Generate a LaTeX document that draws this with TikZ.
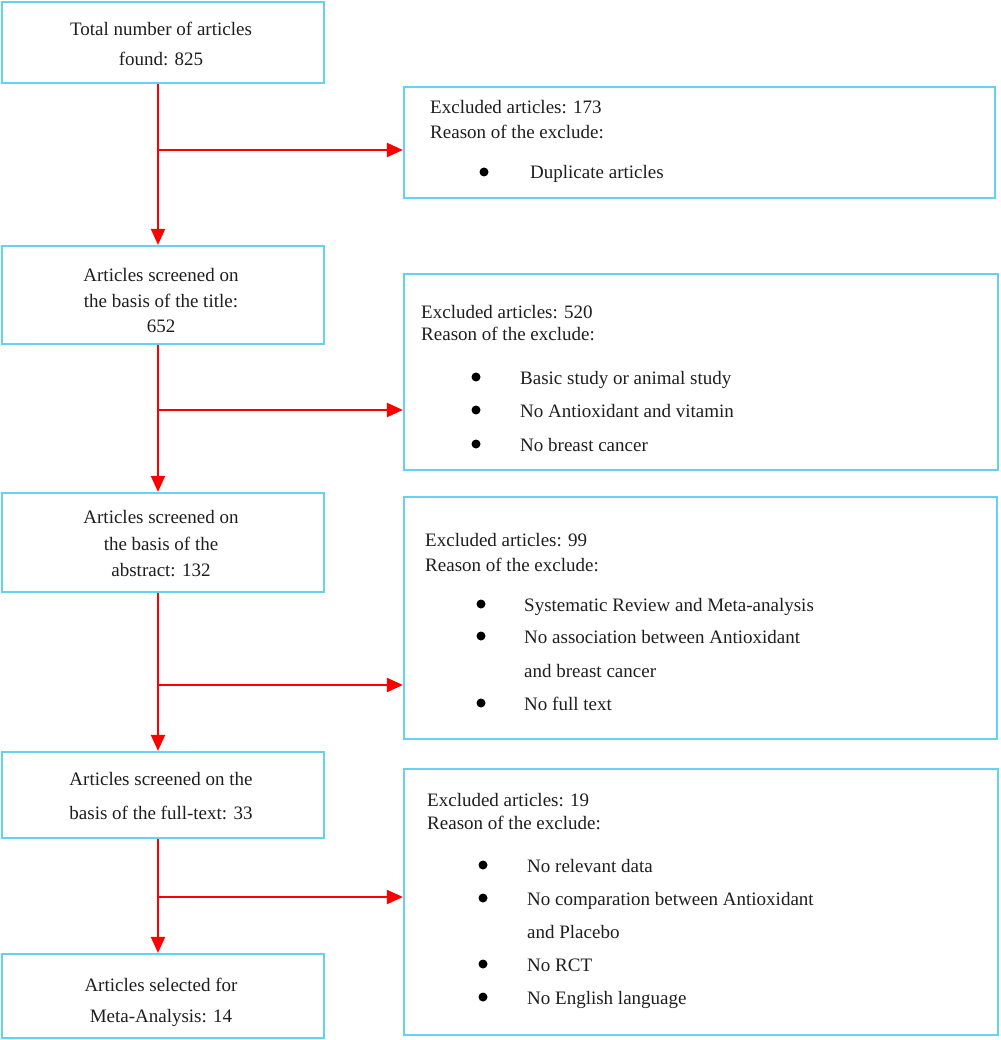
\documentclass[tikz,border=0pt]{standalone}
\usepackage{fontspec}
\setmainfont{Liberation Serif}
\usetikzlibrary{arrows.meta}
\definecolor{boxcyan}{RGB}{100,210,240}
\definecolor{txt}{RGB}{30,30,30}
\begin{document}
\begin{tikzpicture}[x=1pt,y=-1pt,
  box/.style={draw=boxcyan, line width=2.2pt, inner sep=0pt},
  arr/.style={draw=red, line width=2pt, -{Triangle[length=16pt,width=14pt]}},
  lt/.style={anchor=base, inner sep=0pt, text=txt, font=\fontsize{19}{22}\selectfont},
  rt/.style={anchor=base west, inner sep=0pt, text=txt, font=\fontsize{19}{22}\selectfont},
  dot/.style={circle, fill=black, inner sep=0pt, minimum size=9pt}]
\useasboundingbox (0,0) rectangle (1000,1040);
% left boxes
\node[box, minimum width=322pt, minimum height=81pt] (b1) at (163,42.5) {};
\node[box, minimum width=322pt, minimum height=98pt] (b2) at (163,295) {};
\node[box, minimum width=322pt, minimum height=99pt] (b3) at (163,542.5) {};
\node[box, minimum width=322pt, minimum height=86pt] (b4) at (163,795) {};
\node[box, minimum width=322pt, minimum height=84pt] (b5) at (163,996) {};
% right boxes
\node[box, minimum width=591pt, minimum height=111pt] (r1) at (699.5,142.5) {};
\node[box, minimum width=594pt, minimum height=196pt] (r2) at (701,372) {};
\node[box, minimum width=593pt, minimum height=242pt] (r3) at (700.5,618) {};
\node[box, minimum width=594pt, minimum height=266pt] (r4) at (701,902) {};
% left texts
\node[lt] (t11) at (161,36) {Total number of articles};
\node[lt] (t12) at (161,66) {found: 825};
\node[lt] (t21) at (161,282) {Articles screened on};
\node[lt] (t22) at (161,307) {the basis of the title:};
\node[lt] (t23) at (161,332) {652};
\node[lt] (t31) at (161,523) {Articles screened on};
\node[lt] (t32) at (161,550) {the basis of the};
\node[lt] (t33) at (161,576) {abstract: 132};
\node[lt] (t41) at (161,785) {Articles screened on the};
\node[lt] (t42) at (161,819) {basis of the full-text: 33};
\node[lt] (t51) at (161,991) {Articles selected for};
\node[lt] (t52) at (161,1022) {Meta-Analysis: 14};
% right box 1
\node[rt] (u11) at (430,114) {Excluded articles: 173};
\node[rt] (u12) at (430,139) {Reason of the exclude:};
\node[dot] (d11) at (484,172) {};
\node[rt] (u13) at (530,179) {Duplicate articles};
% right box 2
\node[rt] (u21) at (421,318) {Excluded articles: 520};
\node[rt] (u22) at (421,340) {Reason of the exclude:};
\node[dot] (d21) at (476,377) {};
\node[rt] (u23) at (520,384) {Basic study or animal study};
\node[dot] (d22) at (476,410) {};
\node[rt] (u24) at (520,417) {No Antioxidant and vitamin};
\node[dot] (d23) at (476,444) {};
\node[rt] (u25) at (520,451) {No breast cancer};
% right box 3
\node[rt] (u31) at (425,546) {Excluded articles: 99};
\node[rt] (u32) at (425,571) {Reason of the exclude:};
\node[dot] (d31) at (481,604) {};
\node[rt] (u33) at (524,611) {Systematic Review and Meta-analysis};
\node[dot] (d32) at (481,636) {};
\node[rt] (u34) at (524,643) {No association between Antioxidant};
\node[rt] (u35) at (524,677) {and breast cancer};
\node[dot] (d33) at (481,703) {};
\node[rt] (u36) at (524,710) {No full text};
% right box 4
\node[rt] (u41) at (427,806) {Excluded articles: 19};
\node[rt] (u42) at (427,829) {Reason of the exclude:};
\node[dot] (d41) at (483,865) {};
\node[rt] (u43) at (527,872) {No relevant data};
\node[dot] (d42) at (483,898) {};
\node[rt] (u44) at (527,905) {No comparation between Antioxidant};
\node[rt] (u45) at (527,938) {and Placebo};
\node[dot] (d43) at (483,964) {};
\node[rt] (u46) at (527,971) {No RCT};
\node[dot] (d44) at (483,997) {};
\node[rt] (u47) at (527,1004) {No English language};
% junctions
\coordinate (j1) at (158,150);
\coordinate (j2) at (158,410);
\coordinate (j3) at (158,685);
\coordinate (j4) at (158,897);
% arrows
\draw[arr] ([xshift=-5pt]b1.south) -- ([xshift=-5pt]b2.north);
\draw[arr] (j1) -- (j1 -| r1.west);
\draw[arr] ([xshift=-5pt]b2.south) -- ([xshift=-5pt]b3.north);
\draw[arr] (j2) -- (j2 -| r2.west);
\draw[arr] ([xshift=-5pt]b3.south) -- ([xshift=-5pt]b4.north);
\draw[arr] (j3) -- (j3 -| r3.west);
\draw[arr] ([xshift=-5pt]b4.south) -- ([xshift=-5pt]b5.north);
\draw[arr] (j4) -- (j4 -| r4.west);
\end{tikzpicture}
\end{document}
